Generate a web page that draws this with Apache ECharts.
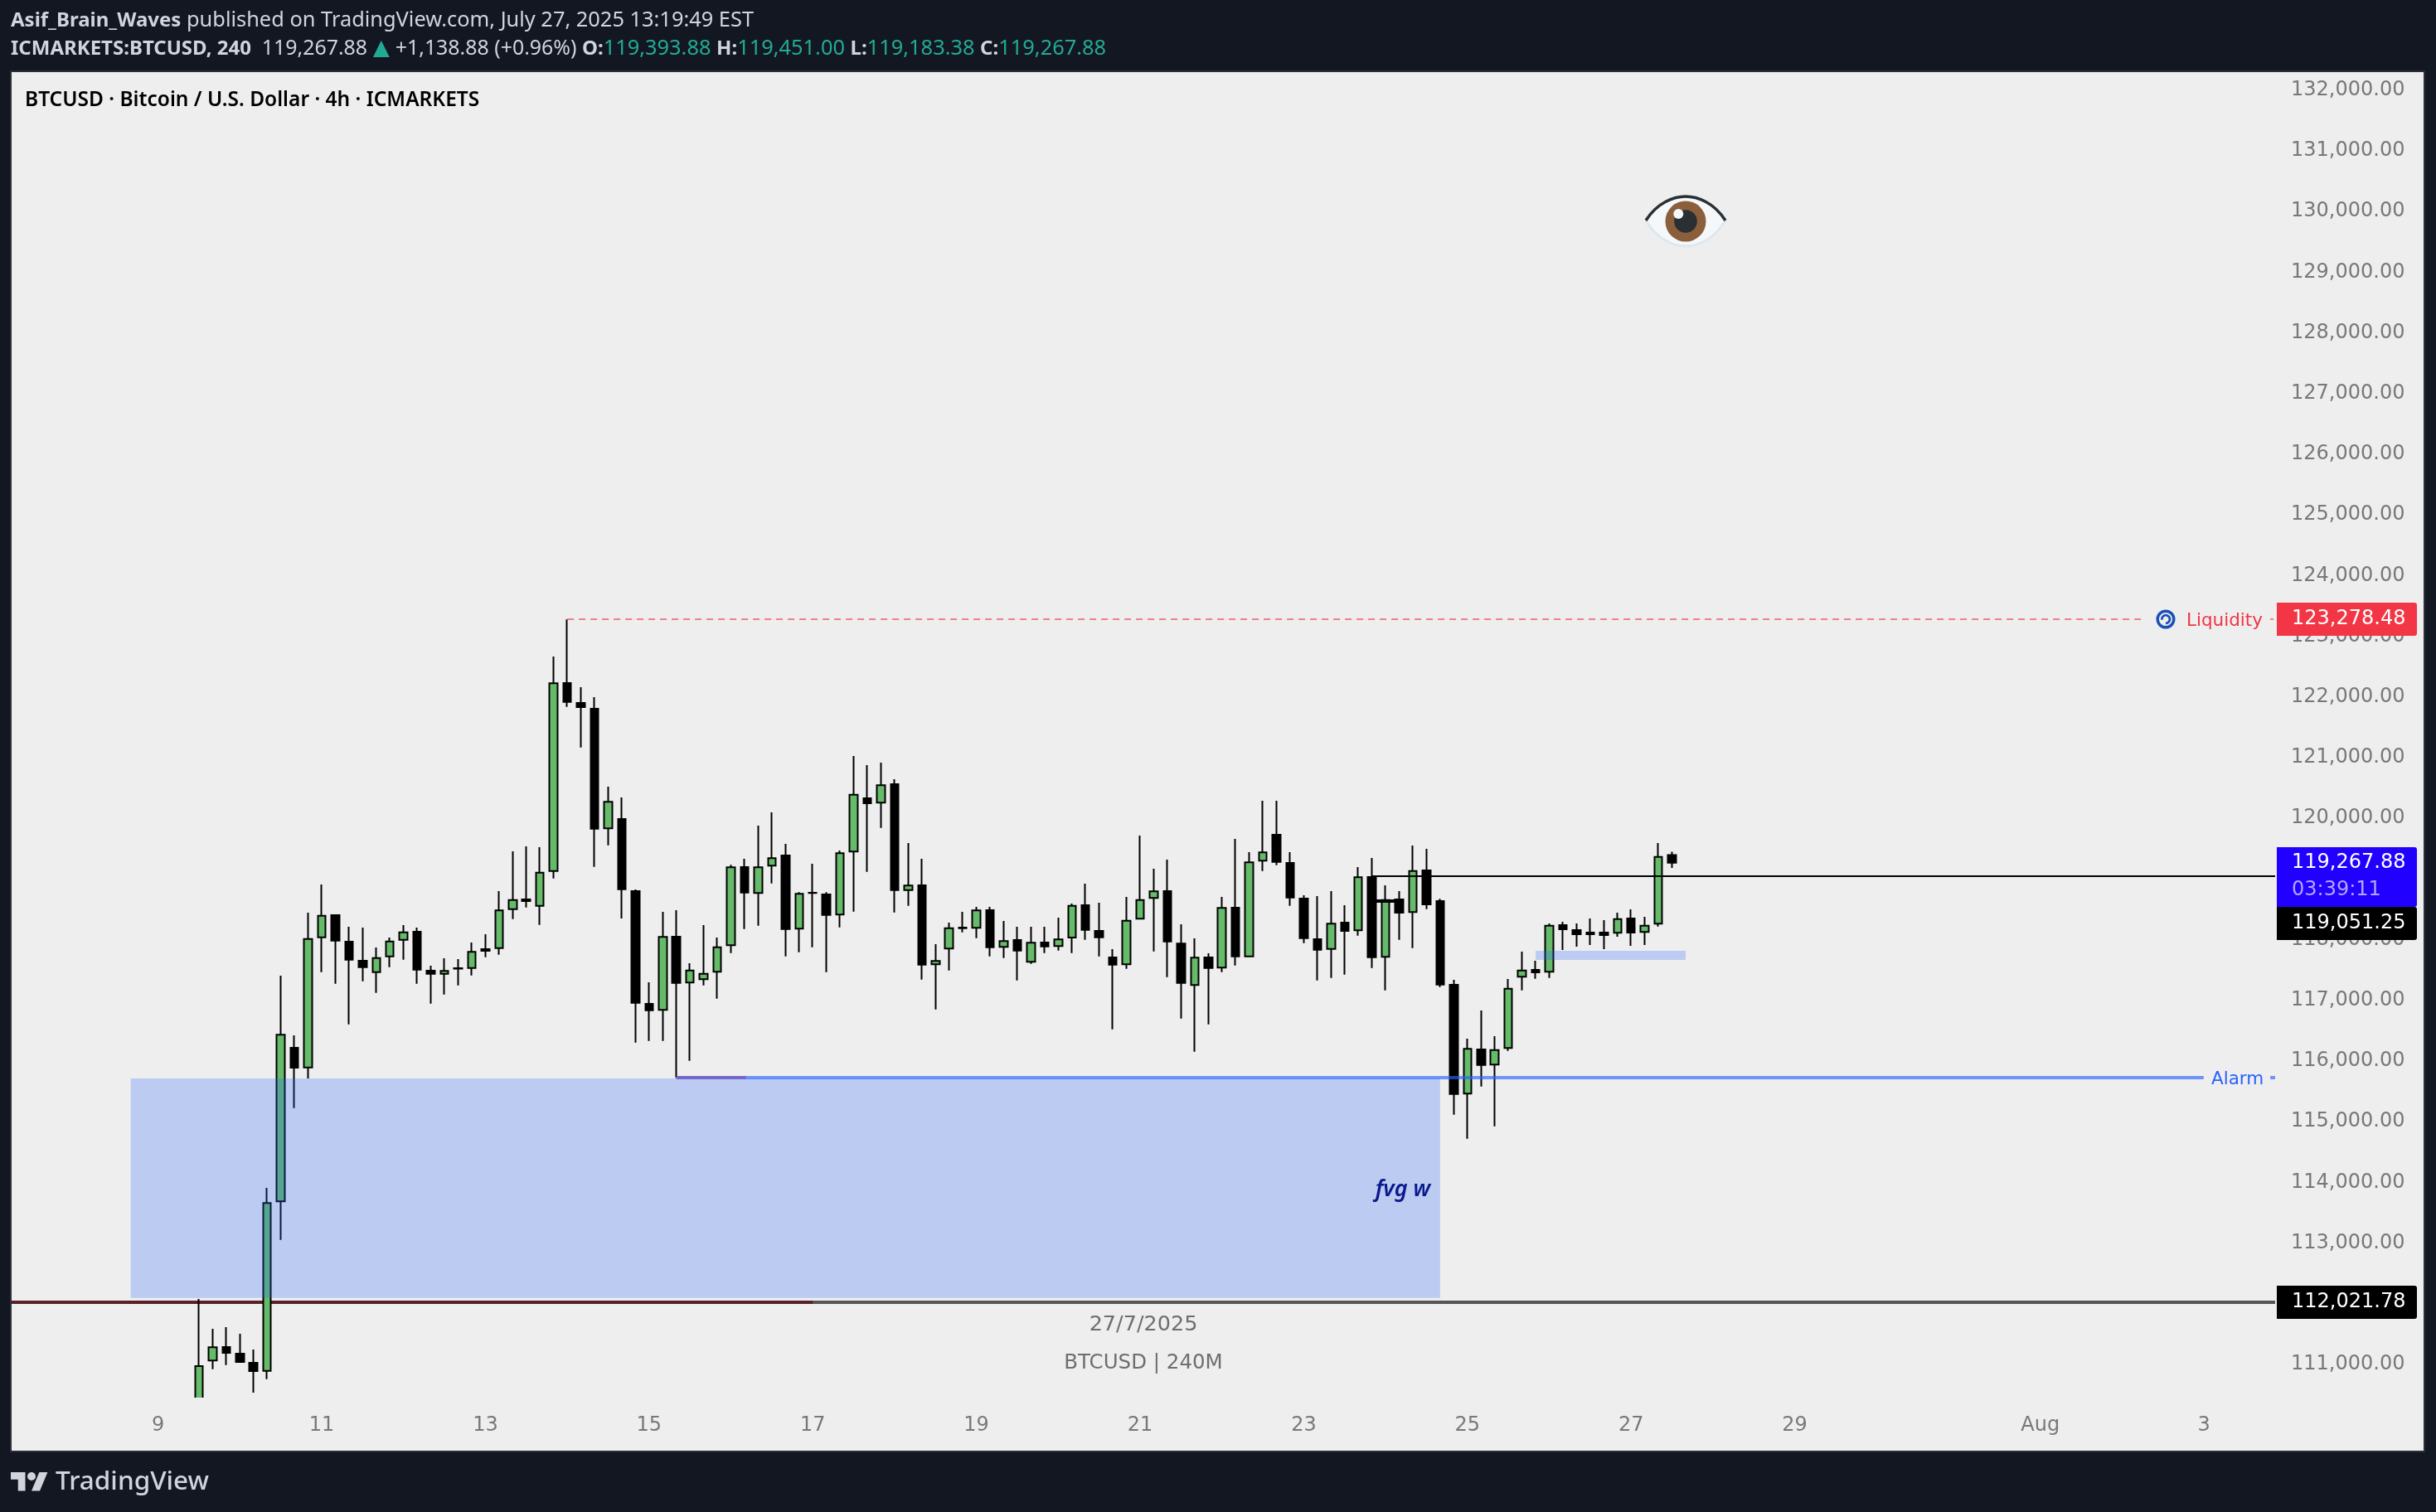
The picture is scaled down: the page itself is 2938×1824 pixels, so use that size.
<!DOCTYPE html>
<html>
<head>
<meta charset="utf-8">
<title>BTCUSD 4h</title>
<script src="https://cdn.jsdelivr.net/npm/echarts@6/dist/echarts.min.js"></script>
<style>
html,body{margin:0;padding:0;background:#131722;}
#container1{width:2938px;height:1824px;}
</style>
</head>
<body>
<div id="container1"></div>
<script>
//价格刻度
var priceTicks=[111000,112000,113000,114000,115000,116000,117000,118000,119000,120000,121000,
	122000,123000,124000,125000,126000,127000,128000,129000,130000,131000,132000];
//时间刻度 (x = 4h bars counted from 9 Jul 00:00)
var dayTicks=[0,12,24,36,48,60,72,84,96,108,120,138,150];
var dayLabels=['9','11','13','15','17','19','21','23','25','27','29','Aug','3'];
var firstBar=3;
//K线 (first bar runs off the bottom of the pane, its open and low are estimates)
var opens=[110380,111064,111287,111178,111027,110895,113687,116219,115895,118040,
	118404,117967,117653,117466,117725,117999,118131,117489,117439,117530,
	117534,117844,117862,118504,118664,118559,119132,122229,121902,121806,
	119835,119989,118801,116943,116843,118049,117294,117348,117471,117908,
	119197,118769,119220,119388,118182,118773,118746,118414,119452,120331,
	120258,120563,118818,118896,117594,117854,118199,118195,118486,117881,
	117995,117635,117954,117895,118035,118568,118145,117708,117594,118346,
	118687,118801,117936,117253,117708,117540,118527,117725,119302,119729,
	119265,118678,118008,117848,118281,118154,119033,117717,118664,118455,
	119142,118637,117257,115463,116191,115941,116214,117389,117503,117471,
	118240,118158,118117,118117,118113,118350,118127,118264,119393.88];
var closes=[110973,111283,111191,111041,110891,113660,116433,115891,118012,118395,
	117985,117671,117548,117698,117971,118122,117507,117439,117485,117525,
	117799,117817,118482,118654,118637,119105,122225,121919,121833,119829,
	120272,118832,116960,116837,118045,117288,117493,117439,117876,119193,
	118777,119193,119343,118176,118755,118770,118408,119425,120389,120249,
	120545,118818,118892,117589,117649,118190,118190,118482,117876,117977,
	117821,117949,117889,118004,118559,118163,118040,117589,118313,118654,
	118796,117971,117288,117704,117534,118523,117725,119275,119438,119283,
	118695,118026,117835,118264,118145,119029,117712,118654,118445,119132,
	118582,117261,115458,116201,115936,116182,117193,117493,117462,118231,
	118172,118090,118090,118076,118340,118117,118231,119365,119267.88];
var lows=[110350,110922,110990,111027,110536,110758,113053,115225,115713,117466,
	117275,116605,117316,117124,117548,117671,117275,116947,117097,117247,
	117411,117712,117753,118340,118531,118244,119010,121837,121168,119201,
	119556,118350,116305,116332,116332,115727,116004,117247,117029,117780,
	118176,118231,118928,117725,117794,117876,117466,118204,118463,119119,
	119843,118449,118559,117343,116851,117493,118122,118026,117725,117698,
	117329,117602,117780,117821,117780,117999,117725,116523,117520,118332,
	117807,117384,116701,116154,116605,117466,117575,117712,119132,119228,
	118559,117944,117329,117370,117425,118067,117534,117165,117999,117862,
	118504,117220,115116,114720,115581,114925,116168,117165,117357,117370,
	117831,117885,117913,117844,118049,117899,117913,118217,119183.38];
var highs=[112080,111587,111615,111506,111246,113910,117407,116423,118445,118910,
	118418,118213,118199,117872,118035,118240,118199,117571,117694,117680,
	117954,118090,118801,119456,119538,119525,122667,123278.48,122161,121997,
	120522,120344,118828,117298,118459,118486,117612,118240,118035,119234,
	119333,119880,120098,119579,118783,119251,118783,119470,121027,120877,
	120918,120645,119593,119333,117926,118281,118459,118541,118541,118309,
	118213,118213,118213,118363,118596,118923,118609,117844,118705,119716,
	119169,119320,118254,118022,117776,118705,119661,119443,120290,120290,
	119443,118732,118719,118801,118568,119197,119347,118896,118801,119552,
	119497,118673,117339,116369,116833,116410,117352,117803,117653,118268,
	118295,118268,118350,118322,118445,118500,118377,119593,119451];
//画线工具
var liquidityPrice=123278.48, alarmPrice=115727, rayPrice=119051.25, supportPrice=112021.78,
	lastPrice=119267.88, stubPrice=118640;
var fvgBox=[-2,94,112097,115713];
var smallBox=[101,112,117667,117817];

var candleData=[];
for(var i=0;i<opens.length;i++){
	candleData.push([firstBar+i,opens[i],closes[i],lows[i],highs[i]]);
}

var xMin=-10.735,xMax=155.22;
var FONT='"DejaVu Sans"';

function seg(x1,x2,p,color,width,type){
	return [{coord:[x1,p],lineStyle:{color:color,width:width,type:type||'solid'}},{coord:[x2,p]}];
}
function box(b){
	return [{coord:[b[0],b[3]]},{coord:[b[1],b[2]]}];
}
function svgUri(s){
	return 'data:image/svg+xml;utf8,'+encodeURIComponent(s);
}

var eyeSvg='<svg xmlns="http://www.w3.org/2000/svg" width="100" height="66" viewBox="0 0 100 66">'+
	'<path d="M1 31C15 9 35 2 49 2C63 2 83 9 97 31C85 52 65 62 49 62C33 62 13 52 1 31Z" fill="#F5F8FA"/>'+
	'<path d="M1 31C13 52 33 62 49 62C65 62 85 52 97 31" fill="none" stroke="#E1E8ED" stroke-width="3.5"/>'+
	'<circle cx="49" cy="32" r="24.5" fill="#8B5E3C"/><circle cx="49" cy="32" r="13.8" fill="#292F33"/>'+
	'<circle cx="40.3" cy="23" r="6" fill="#F5F8FA"/>'+
	'<path d="M1 31C15 9 35 2 49 2C63 2 83 9 97 31" fill="none" stroke="#292F33" stroke-width="3.5"/></svg>';
var spiralSvg='<svg xmlns="http://www.w3.org/2000/svg" width="24" height="24" viewBox="0 0 24 24">'+
	'<circle cx="12" cy="12" r="9.8" fill="none" stroke="#1A4FB8" stroke-width="3.4"/>'+
	'<path d="M7.4 12.6A4.8 4.8 0 1 1 12 16.8" fill="none" stroke="#1A4FB8" stroke-width="2.8"/></svg>';
var logoSvg='<svg xmlns="http://www.w3.org/2000/svg" width="36" height="28" viewBox="0 0 36 28">'+
	'<path d="M14 22H7V11H0V4h14v18zM28 22h-8l7.5-18h8L28 22z" fill="#D1D4DC"/><circle cx="20" cy="8" r="4" fill="#D1D4DC"/></svg>';

var myChart=echarts.init(document.getElementById('container1'),null,{renderer:'canvas'});
var option={
	animation:false,
	backgroundColor:'#131722',
	textStyle:{fontFamily:FONT},
	tooltip:{show:false},
	grid:{left:14,top:87,width:2730,height:1599,show:false},
	xAxis:{
		type:'value',min:xMin,max:xMax,
		axisLine:{show:false},axisTick:{show:false},splitLine:{show:false},
		axisLabel:{
			show:true,customValues:dayTicks,margin:22,color:'#787878',fontSize:24,fontFamily:FONT,
			hideOverlap:false,showMinLabel:true,showMaxLabel:true,
			formatter:function(v){
				return dayLabels[dayTicks.indexOf(v)];
			}
		}
	},
	yAxis:{
		type:'value',position:'right',min:110454,max:132298,
		axisLine:{show:false},axisTick:{show:false},splitLine:{show:false},
		axisLabel:{
			show:true,customValues:priceTicks,margin:19,align:'left',color:'#787878',fontSize:24,fontFamily:FONT,
			padding:[0,0,2,0],
			formatter:function(v){
				return v.toLocaleString('en-US',{minimumFractionDigits:2,maximumFractionDigits:2});
			}
		}
	},
	series:[{
		name:'levels under candles',type:'line',data:[],z:1,silent:true,
		markLine:{
			silent:true,symbol:'none',animation:false,z:1,label:{show:false},
			data:[
				seg(xMin,xMax,supportPrice,'#555555',4),
				seg(xMin,48,supportPrice,'#5A2028',4)
			]
		}
	},{
		name:'BTCUSD',type:'candlestick',data:candleData,z:2,barWidth:10,silent:true,
		itemStyle:{color:'#66BB6A',color0:'#000000',borderColor:'#000000',borderColor0:'#000000',borderWidth:2}
	},{
		name:'drawings',type:'line',data:[],z:3,silent:true,
		markArea:{
			silent:true,animation:false,z:3,label:{show:false},
			itemStyle:{color:'rgba(41,98,255,0.25)',borderWidth:0},
			data:[box(fvgBox),box(smallBox)]
		},
		markLine:{
			silent:true,symbol:'none',animation:false,z:5,label:{show:false},
			data:[
				seg(30,145.6,liquidityPrice,'rgba(242,54,69,0.6)',2,[8,6]),
				seg(154.86,155.1,liquidityPrice,'rgba(242,54,69,0.6)',2),
				seg(38,149.98,alarmPrice,'rgba(41,98,255,0.65)',4),
				seg(154.86,xMax,alarmPrice,'rgba(41,98,255,0.65)',4),
				seg(38,43.1,alarmPrice,'#7366CC',4),
				seg(89,xMax,rayPrice,'#000000',2),
				seg(89,91,stubPrice,'#000000',4)
			]
		}
	}]
};
myChart.setOption(option);

//价格标签 positions come from the axis
function yOf(p){
	return Math.round(myChart.convertToPixel({yAxisIndex:0},p));
}
function tag(top,h,color,z){
	return {type:'rect',z:z||50,silent:true,shape:{x:2746,y:top,width:169,height:h,r:[0,3,3,0]},style:{fill:color}};
}
function txt(x,y,text,font,color,align,z){
	return {type:'text',z:z||51,silent:true,x:x,y:y,style:{text:text,font:font,fill:color,align:align||'left',verticalAlign:'middle'}};
}
var tagFont='24px '+FONT;
var yLiq=yOf(liquidityPrice),yAlarm=yOf(alarmPrice),ySup=yOf(supportPrice),yLast=yOf(lastPrice);
var uiFont='"Noto Sans"';
var headerRich={
	b:{font:'bold 24px '+uiFont,fill:'#D1D4DC',color:'#D1D4DC'},
	r:{font:'25.4px '+uiFont,fill:'#D1D4DC',color:'#D1D4DC'},
	r2:{font:'24.9px '+uiFont,fill:'#D1D4DC',color:'#D1D4DC'},
	g:{font:'25.4px '+uiFont,fill:'#22AB94',color:'#22AB94'},
	t:{font:'34px '+uiFont,fill:'#22AB94',color:'#22AB94'}
};
myChart.setOption({graphic:{elements:[
	//底板
	{type:'rect',z:-1,silent:true,shape:{x:13,y:86,width:2911,height:1665},style:{fill:'#EEEEEE',stroke:'#2A2E39',lineWidth:2}},
	//clip the first candle at the bottom of the plot like the reference
	{type:'rect',z:10,silent:true,shape:{x:14,y:1686,width:2730,height:10},style:{fill:'#EEEEEE'}},
	//页眉
	{type:'text',z:51,silent:true,x:13,y:25,style:{
		text:'{b|Asif_Brain_Waves}{r| published on TradingView.com, July 27, 2025 13:19:49 EST}',
		rich:headerRich,verticalAlign:'middle'}},
	{type:'text',z:51,silent:true,x:13,y:59,style:{
		text:'{b|ICMARKETS:BTCUSD, 240}{r2|  119,267.88}{t|▲}{r2|+1,138.88 (+0.96%) }{b|O:}{g|119,393.88 }{b|H:}{g|119,451.00 }{b|L:}{g|119,183.38 }{b|C:}{g|119,267.88}',
		rich:headerRich,verticalAlign:'middle'}},
	txt(30,121,'BTCUSD · Bitcoin / U.S. Dollar · 4h · ICMARKETS','600 24.5px '+uiFont,'#000000'),
	//水印
	txt(1379,1598,'27/7/2025','25.5px '+FONT,'#6E6E6E','center'),
	txt(1379,1645,'BTCUSD | 240M','24.5px '+FONT,'#6E6E6E','center'),
	txt(1692,1435,'fvg w','italic 600 27px "Noto Sans"','#0A1A8C','center'),
	//图标
	{type:'image',z:51,silent:true,style:{image:svgUri(eyeSvg),x:1984,y:235,width:100,height:66}},
	{type:'image',z:51,silent:true,style:{image:svgUri(spiralSvg),x:2600,y:yLiq-12,width:24,height:24}},
	//线上文字
	txt(2637,yLiq+2,'Liquidity','21.5px '+FONT,'#F23645'),
	txt(2667,yAlarm+2,'Alarm','21.5px '+FONT,'#2962FF'),
	//价格标签
	tag(yLiq-20,40,'#F23645'),
	txt(2764,yLiq,'123,278.48',tagFont,'#FFFFFF'),
	tag(yLast-19,72,'#2200FF'),
	txt(2764,yLast,'119,267.88',tagFont,'#FFFFFF'),
	txt(2764,yLast+33,'03:39:11',tagFont,'#B3A6FF'),
	tag(yLast+53,40,'#000000'),
	txt(2764,yLast+73,'119,051.25',tagFont,'#FFFFFF'),
	tag(ySup-20,40,'#000000'),
	txt(2764,ySup,'112,021.78',tagFont,'#FFFFFF'),
	//Logo
	{type:'image',z:51,silent:true,style:{image:svgUri(logoSvg),x:13,y:1771,width:45,height:35}},
	txt(67,1788,'TradingView','500 31.5px '+uiFont,'#D1D4DC')
]}});
</script>
</body>
</html>
